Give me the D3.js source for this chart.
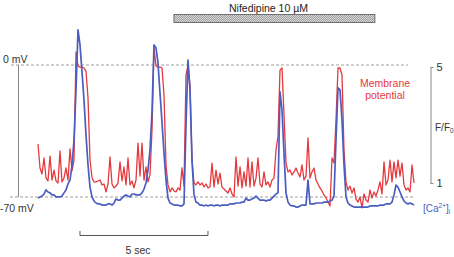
<!DOCTYPE html>
<html><head><meta charset="utf-8">
<script src="https://cdn.jsdelivr.net/npm/d3@7"></script>
<style>
body{margin:0;background:#fff}
svg{display:block;font-family:"Liberation Sans",Arial,Helvetica,sans-serif}
</style>
</head><body>
<svg id="c" width="454" height="257"></svg>
<script>
// ---- data ----
const sampleInterval = 0.078125; // seconds between samples
const membranePotential = [ // mV
-41.9,-54.6,-57.8,-49.3,-59.9,-61.5,-48.3,-61.0,-55.7,-61.5,
-62.6,-45.6,-62.0,-59.9,-54.6,-61.0,-44.5,-56.2,-50.4,6.9,
-0.5,-1.1,-1.1,-1.6,-3.2,-17.5,-50.4,-59.9,-62.0,-62.0,
-61.5,-61.0,-63.6,-63.1,-67.3,-63.1,-48.8,-63.1,-65.2,-64.2,
-62.6,-51.4,-61.5,-54.1,-63.6,-49.3,-63.6,-61.5,-65.2,-61.0,
-41.4,-58.9,-41.4,-61.0,-54.1,-62.0,-58.3,-34.5,9.0,-0.5,
-1.1,-1.1,-1.6,-15.9,-53.0,-63.6,-67.3,-65.2,-66.8,-67.3,
-65.2,-66.3,-54.6,-64.2,-5.3,-0.5,-10.6,-50.4,-62.6,-63.6,
-62.0,-63.6,-62.6,-64.7,-63.1,-65.2,-64.7,-52.0,-64.7,-55.7,
-63.1,-57.3,-64.7,-65.8,-66.8,-67.9,-65.2,-68.4,-70.0,-48.8,
-64.2,-54.1,-65.2,-56.7,-64.2,-49.3,-64.7,-51.4,-64.2,-60.0,
-49.3,-63.1,-64.7,-56.7,-63.6,-62.0,-64.7,-61.0,-60.0,-45.1,
-37.7,-2.7,-1.6,-26.5,-52.0,-56.7,-55.7,-58.3,-56.7,-54.6,
-57.3,-59.4,-53.0,-61.0,-58.9,-38.7,-60.0,-56.7,-54.6,-61.0,
-63.1,-65.2,-66.8,-68.9,-70.5,-72.7,-74.8,-49.3,-52.0,-29.2,
-1.6,-1.6,-5.3,-45.1,-62.0,-66.3,-64.2,-67.9,-65.2,-71.1,
-72.7,-70.0,-75.8,-68.4,-71.6,-72.7,-66.3,-70.5,-67.3,-69.5,
-66.3,-62.0,-68.4,-51.4,-63.6,-61.0,-50.4,-62.0,-51.4,-59.9,
-50.4,-58.9,-52.0,-63.6,-66.3,-65.2,-67.3,-53.0,-62.6
];
const calcium = [ // F/F0
0.48,0.52,0.55,0.62,0.76,0.69,0.66,0.59,0.59,0.52,
0.52,0.52,0.55,0.66,0.76,0.97,1.10,1.62,2.48,4.21,
6.28,5.76,4.83,3.86,2.66,1.62,0.86,0.52,0.38,0.31,
0.28,0.28,0.24,0.24,0.24,0.28,0.28,0.24,0.31,0.45,
0.41,0.41,0.48,0.55,0.59,0.55,0.52,0.62,0.62,0.59,
0.59,0.59,0.66,0.79,1.00,1.45,2.14,3.45,5.76,5.66,
5.14,4.10,3.10,2.03,1.10,0.48,0.31,0.28,0.24,0.24,
0.24,0.21,0.21,0.28,3.00,5.24,4.21,1.79,0.59,0.34,
0.31,0.24,0.24,0.21,0.24,0.21,0.24,0.24,0.21,0.24,
0.24,0.21,0.24,0.24,0.24,0.24,0.28,0.28,0.28,0.31,
0.31,0.31,0.34,0.34,0.48,0.41,0.41,0.45,0.48,0.55,
0.48,0.41,0.41,0.41,0.38,0.41,0.41,0.48,0.55,0.62,
0.66,4.14,3.52,2.03,0.66,0.34,0.24,0.21,0.21,0.17,
0.17,0.21,0.24,0.24,0.24,1.10,0.28,0.28,0.28,0.31,
0.31,0.31,0.31,0.34,0.34,0.34,0.38,0.41,0.55,2.48,
4.28,4.21,3.17,1.62,0.52,0.31,0.24,0.21,0.17,0.17,
0.17,0.17,0.17,0.17,0.17,0.17,0.21,0.21,0.21,0.21,
0.21,0.24,0.24,0.24,0.28,0.28,0.28,0.34,0.59,0.93,
0.86,0.69,0.52,0.38,0.31,0.28,0.31,0.28,0.24
];
const ratioTicks = [1, 5];
const potentialRefs = [0, -70];
const potentialLabels = ["0 mV", "-70 mV"];
const drugLabel = "Nifedipine 10 µM";
const drugWindow = [5.31, 13.16]; // s
const timeBar = [1.64, 6.64];     // s
const timeBarLabel = "5 sec";

// ---- drawing ----
const RED = "#e5393d", BLUE = "#4a5ec2";
const svg = d3.select("#c");
const x  = d3.scaleLinear().domain([0, 10]).range([38, 294]);
const yV = d3.scaleLinear().domain([0, -70]).range([65, 197]);
const yF = d3.scaleLinear().domain([1, 5]).range([183, 67]);

const defs = svg.append("defs");
const pat = defs.append("pattern").attr("id","hatch").attr("patternUnits","userSpaceOnUse")
  .attr("width",2).attr("height",2);
pat.append("rect").attr("width",2).attr("height",2).attr("fill","#d6d6d6");
pat.append("path").attr("d","M0,2 L2,0").attr("stroke","#8a8a8a").attr("stroke-width",0.7);

// reference dashed lines
svg.append("line").attr("x1",11).attr("x2",408).attr("y1",yV(0)).attr("y2",yV(0))
  .attr("stroke","#888").attr("stroke-width",0.8).attr("stroke-dasharray","3,2");
svg.append("line").attr("x1",10).attr("x2",413).attr("y1",yV(-70)).attr("y2",yV(-70))
  .attr("stroke","#888").attr("stroke-width",0.8).attr("stroke-dasharray","3,2");
// left voltage bar
svg.append("line").attr("x1",18.5).attr("x2",18.5).attr("y1",yV(0)).attr("y2",yV(-70))
  .attr("stroke","#888").attr("stroke-width",1);
svg.append("text").attr("x",3).attr("y",yV(potentialRefs[0])-2).attr("font-size",10.5)
  .attr("fill","#333").text(potentialLabels[0]);
svg.append("text").attr("x",0).attr("y",yV(potentialRefs[1])+15).attr("font-size",10.5)
  .attr("fill","#333").text(potentialLabels[1]);

// traces
const line = (yScale) => d3.line().x((d,i)=>x(i*sampleInterval)).y(d=>yScale(d));
svg.append("path").datum(membranePotential).attr("d", line(yV))
  .attr("fill","none").attr("stroke",RED).attr("stroke-width",1.3).attr("stroke-linejoin","round");
svg.append("path").datum(calcium).attr("d", line(yF))
  .attr("fill","none").attr("stroke",BLUE).attr("stroke-width",1.7).attr("stroke-linejoin","round");

// right F/F0 axis
const ax = svg.append("g").attr("transform","translate(430.5,0)")
  .call(d3.axisRight(yF).tickValues(ratioTicks).tickFormat(d3.format("d"))
    .tickSize(3).tickSizeOuter(0).tickPadding(3));
ax.select(".domain").attr("stroke","#888");
ax.selectAll(".tick line").attr("stroke","#888");
ax.selectAll(".tick text").attr("font-size",11).attr("fill","#333")
  .attr("font-family",'"Liberation Sans",Arial,sans-serif');
const ff = svg.append("text").attr("x",435).attr("y",131).attr("font-size",10).attr("fill","#333");
ff.append("tspan").text("F/F");
ff.append("tspan").attr("font-size",6.5).attr("dy",2).text("0");

// legends
const mp = svg.append("text").attr("font-size",10.5).attr("fill",RED).attr("text-anchor","middle");
mp.append("tspan").attr("x",385).attr("y",87).text("Membrane");
mp.append("tspan").attr("x",385).attr("y",99).text("potential");
const ca = svg.append("text").attr("x",423).attr("y",212).attr("font-size",10).attr("fill",BLUE);
ca.append("tspan").text("[Ca");
ca.append("tspan").attr("font-size",6.5).attr("dy",-4).text("2+");
ca.append("tspan").attr("dy",4).text("]");
ca.append("tspan").attr("font-size",6.5).attr("dy",2).text("i");

// drug bar
svg.append("rect").attr("x",x(drugWindow[0])).attr("y",14.5)
  .attr("width",x(drugWindow[1])-x(drugWindow[0])).attr("height",8)
  .attr("fill","url(#hatch)").attr("stroke","#555").attr("stroke-width",0.8);
svg.append("text").attr("x",229).attr("y",11.5).attr("font-size",10.5).attr("fill","#222").text(drugLabel);

// time scale bar
const tb = d3.path();
tb.moveTo(x(timeBar[0]),231); tb.lineTo(x(timeBar[0]),235.5);
tb.lineTo(x(timeBar[1]),235.5); tb.lineTo(x(timeBar[1]),231);
svg.append("path").attr("d",tb.toString()).attr("fill","none").attr("stroke","#555").attr("stroke-width",1);
svg.append("text").attr("x",138).attr("y",254).attr("font-size",10.5).attr("fill","#333")
  .attr("text-anchor","middle").text(timeBarLabel);
</script>
</body></html>
